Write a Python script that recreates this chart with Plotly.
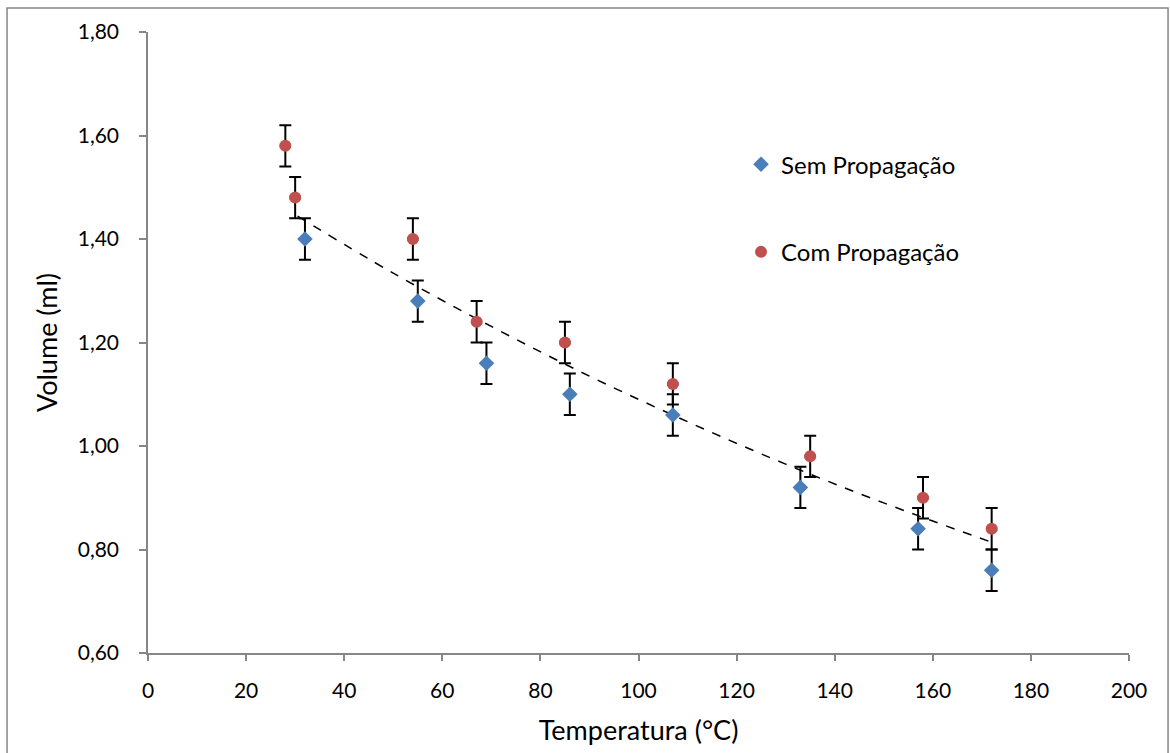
import plotly.graph_objects as go

# Data
sem_x = [32, 55, 69, 86, 107, 133, 157, 172]
sem_y = [1.40, 1.28, 1.16, 1.10, 1.06, 0.92, 0.84, 0.76]
com_x = [28, 30, 54, 67, 85, 107, 135, 158, 172]
com_y = [1.58, 1.48, 1.40, 1.24, 1.20, 1.12, 0.98, 0.90, 0.84]
err_y = 0.04
err_x = 1.0
# dashed trend line
trend_x = [30.5, 50, 70, 90, 110, 130, 150, 172]
trend_y = [1.444, 1.334, 1.231, 1.135, 1.047, 0.965, 0.890, 0.814]

FONT = "Lato"
AXIS_COLOR = "#868686"
BLUE = "#4a7ebb"
RED = "#c0504d"

fig = go.Figure()

ebar_y = dict(type="constant", value=err_y, color="black", thickness=2, width=6)
ebar_x = dict(type="constant", value=err_x, color="black", thickness=1.2, width=2)

fig.add_trace(go.Scatter(
    x=trend_x, y=trend_y, mode="lines", showlegend=False, hoverinfo="skip",
    line=dict(color="black", width=1.5, dash="dash", shape="spline")))

fig.add_trace(go.Scatter(
    x=sem_x, y=sem_y, mode="markers", name="Sem Propagação",
    marker=dict(symbol="diamond", color=BLUE, size=12),
    error_y=ebar_y, error_x=ebar_x, legend="legend"))

fig.add_trace(go.Scatter(
    x=com_x, y=com_y, mode="markers", name="Com Propagação",
    marker=dict(symbol="circle", color=RED, size=12),
    error_y=ebar_y, error_x=ebar_x, legend="legend2"))

axis_common = dict(
    showgrid=False, zeroline=False, showline=True, linecolor=AXIS_COLOR, linewidth=1.5,
    ticks="outside", tickcolor=AXIS_COLOR, tickwidth=1.5,
    tickfont=dict(family=FONT, size=21, color="black"),
)

fig.update_layout(
    width=1170, height=753,
    margin=dict(l=148, r=41, t=32, b=98),
    paper_bgcolor="white", plot_bgcolor="white",
    separators=",.",
    font=dict(family=FONT, color="black"),
    xaxis=dict(range=[0, 200], dtick=20, tick0=0, ticklen=6, ticklabelstandoff=12,
               title=dict(text="Temperatura (°C)", font=dict(family=FONT, size=27), standoff=20),
               **axis_common),
    yaxis=dict(range=[0.6, 1.8], dtick=0.2, tick0=0.6, tickformat=".2f", ticklen=7,
               ticklabelstandoff=16,
               title=dict(text="Volume (ml)", font=dict(family=FONT, size=27), standoff=12),
               **axis_common),
    legend=dict(x=0.6045, y=0.7865, xanchor="left", yanchor="middle",
                font=dict(family=FONT, size=24), bgcolor="rgba(0,0,0,0)"),
    legend2=dict(x=0.6045, y=0.6453, xanchor="left", yanchor="middle",
                 font=dict(family=FONT, size=24), bgcolor="rgba(0,0,0,0)"),
    shapes=[dict(type="rect", xref="paper", yref="paper",
                 x0=-0.1437, x1=1.0398, y0=-0.1685, y1=1.0385,
                 line=dict(color=AXIS_COLOR, width=1.5), layer="below")],
)

fig.write_html("out.html")
